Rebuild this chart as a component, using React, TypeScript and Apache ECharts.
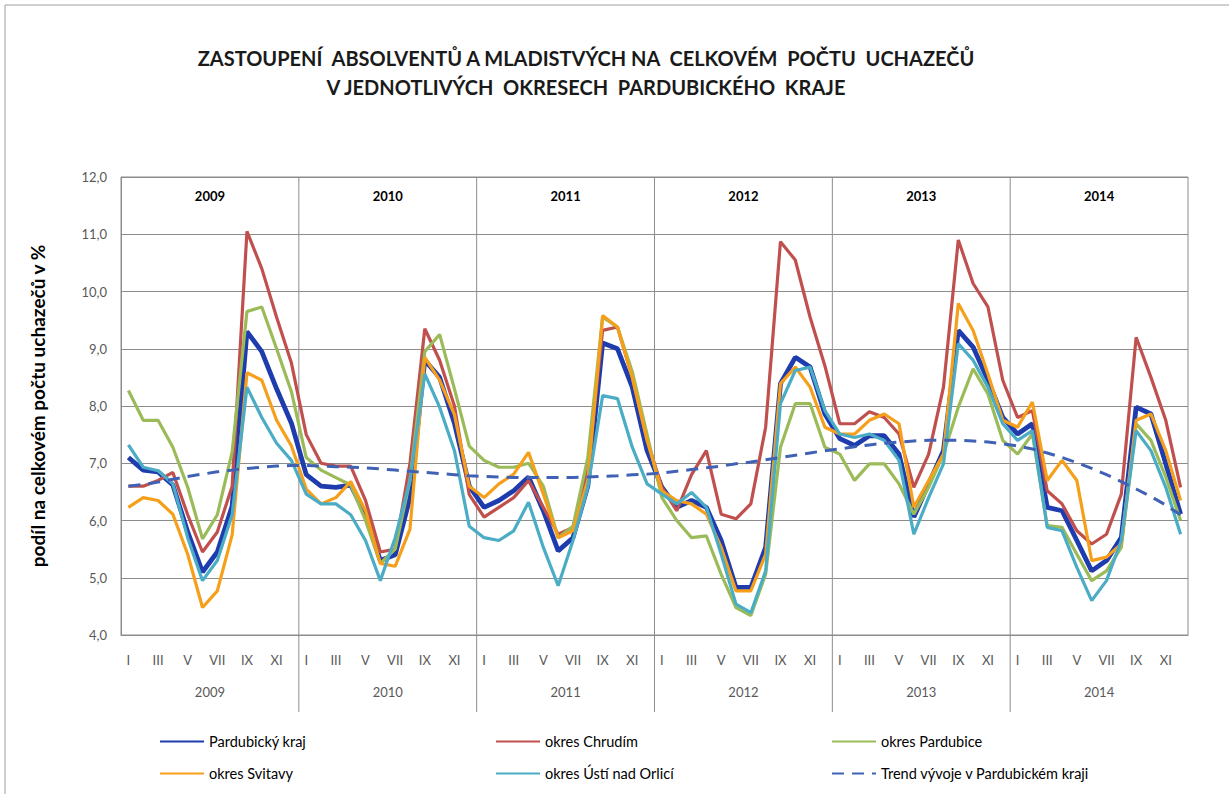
import React, { useEffect, useRef } from 'react';
import * as echarts from 'echarts';

const years = ['2009', '2010', '2011', '2012', '2013', '2014'];
const months = ['I', 'II', 'III', 'IV', 'V', 'VI', 'VII', 'VIII', 'IX', 'X', 'XI', 'XII'];
const categories = years.flatMap((y) => months.map((m) => `${y}|${m}`));
const yearBoundaries = [12, 24, 36, 48, 60];

const pardubickyKraj = [
  7.10, 6.88, 6.85, 6.62, 5.80, 5.10, 5.45, 6.25, 9.30, 8.95, 8.30, 7.70,
  6.80, 6.60, 6.58, 6.62, 6.10, 5.30, 5.40, 6.40, 8.80, 8.50, 7.70, 6.60,
  6.23, 6.35, 6.52, 6.76, 6.17, 5.47, 5.70, 6.60, 9.10, 9.00, 8.33, 7.22,
  6.58, 6.23, 6.35, 6.23, 5.65, 4.83, 4.83, 5.53, 8.39, 8.85, 8.68, 7.86,
  7.43, 7.31, 7.48, 7.48, 7.16, 6.06, 6.64, 7.22, 9.32, 9.03, 8.45, 7.80,
  7.51, 7.69, 6.23, 6.17, 5.65, 5.12, 5.30, 5.70, 7.98, 7.86, 6.99, 6.11,
];
const chrudim = [
  6.60, 6.60, 6.70, 6.84, 6.10, 5.45, 5.80, 6.60, 11.05, 10.40, 9.55, 8.75,
  7.50, 7.00, 6.95, 6.95, 6.35, 5.45, 5.50, 7.00, 9.35, 8.80, 8.00, 6.45,
  6.06, 6.23, 6.40, 6.70, 6.23, 5.76, 5.88, 6.90, 9.32, 9.38, 8.50, 7.40,
  6.58, 6.17, 6.80, 7.22, 6.11, 6.03, 6.29, 7.63, 10.87, 10.55, 9.55, 8.70,
  7.69, 7.69, 7.90, 7.80, 7.51, 6.58, 7.16, 8.33, 10.90, 10.14, 9.73, 8.45,
  7.80, 7.92, 6.52, 6.29, 5.82, 5.59, 5.76, 6.46, 9.20, 8.50, 7.75, 6.58,
];
const pardubice = [
  8.27, 7.75, 7.75, 7.28, 6.58, 5.68, 6.10, 7.20, 9.65, 9.73, 9.00, 8.25,
  7.10, 6.88, 6.75, 6.62, 6.00, 5.25, 5.50, 6.70, 8.95, 9.25, 8.30, 7.30,
  7.05, 6.93, 6.93, 7.00, 6.60, 5.70, 5.90, 7.10, 9.55, 9.38, 8.60, 7.50,
  6.40, 6.00, 5.70, 5.73, 5.06, 4.48, 4.34, 5.06, 7.28, 8.04, 8.04, 7.28,
  7.16, 6.70, 6.99, 6.99, 6.64, 6.11, 6.58, 7.16, 7.98, 8.65, 8.21, 7.40,
  7.16, 7.51, 5.91, 5.88, 5.41, 4.95, 5.12, 5.53, 7.69, 7.40, 6.76, 6.00,
];
const svitavy = [
  6.23, 6.40, 6.35, 6.11, 5.41, 4.48, 4.77, 5.75, 8.58, 8.45, 7.75, 7.30,
  6.55, 6.29, 6.40, 6.68, 6.17, 5.25, 5.20, 5.85, 8.85, 8.45, 7.85, 6.60,
  6.40, 6.64, 6.81, 7.19, 6.46, 5.70, 5.82, 6.70, 9.58, 9.38, 8.50, 7.40,
  6.52, 6.35, 6.29, 6.11, 5.53, 4.77, 4.77, 5.41, 8.39, 8.68, 8.33, 7.63,
  7.51, 7.51, 7.75, 7.86, 7.69, 6.23, 6.70, 7.16, 9.79, 9.32, 8.56, 7.75,
  7.63, 8.07, 6.70, 7.05, 6.70, 5.30, 5.36, 5.59, 7.75, 7.86, 7.22, 6.35,
];
const ustiNadOrlici = [
  7.32, 6.93, 6.87, 6.64, 5.70, 4.95, 5.30, 6.10, 8.33, 7.80, 7.35, 7.05,
  6.46, 6.29, 6.29, 6.10, 5.65, 4.95, 5.70, 6.70, 8.56, 7.98, 7.22, 5.90,
  5.70, 5.65, 5.82, 6.32, 5.53, 4.86, 5.65, 6.58, 8.18, 8.13, 7.28, 6.64,
  6.46, 6.29, 6.49, 6.23, 5.41, 4.54, 4.39, 5.12, 8.04, 8.62, 8.68, 7.92,
  7.51, 7.45, 7.51, 7.40, 7.05, 5.76, 6.40, 6.99, 9.09, 8.80, 8.33, 7.69,
  7.40, 7.57, 5.88, 5.82, 5.18, 4.60, 4.95, 5.65, 7.57, 7.22, 6.58, 5.76,
];
const trend = [
  6.60, 6.63, 6.67, 6.72, 6.77, 6.81, 6.85, 6.88, 6.91, 6.93, 6.95, 6.96,
  6.96, 6.95, 6.94, 6.93, 6.92, 6.90, 6.88, 6.86, 6.84, 6.82, 6.80, 6.78,
  6.77, 6.76, 6.75, 6.75, 6.75, 6.75, 6.75, 6.76, 6.77, 6.78, 6.80, 6.81,
  6.83, 6.86, 6.89, 6.92, 6.95, 6.99, 7.02, 7.06, 7.10, 7.14, 7.18, 7.22,
  7.25, 7.29, 7.32, 7.35, 7.37, 7.39, 7.40, 7.40, 7.40, 7.39, 7.37, 7.34,
  7.30, 7.25, 7.18, 7.10, 7.01, 6.91, 6.80, 6.68, 6.55, 6.42, 6.27, 6.10,
];

const FONT = 'Lato, "Open Sans", sans-serif';
const GRID = '#8c8c8c';

export default function App() {
  const ref = useRef<HTMLDivElement>(null);
  useEffect(() => {
    if (!ref.current) return;
    const chart = echarts.init(ref.current, undefined, { renderer: 'svg' });
    const lineSeries = (name: string, data: number[], color: string, width: number, dashed = false) => ({
      name,
      type: 'line',
      data,
      xAxisIndex: 0,
      yAxisIndex: 0,
      symbol: 'none',
      showSymbol: false,
      smooth: false,
      color,
      lineStyle: { color, width, type: dashed ? [12, 8] : 'solid' },
      z: 3,
    });
    const legendCommon = {
      orient: 'vertical',
      top: 729,
      itemWidth: 44,
      itemHeight: 14,
      itemGap: 17,
      itemStyle: { opacity: 0 },
      textStyle: { fontFamily: FONT, fontSize: 14.5, color: '#000' },
    };
    chart.setOption({
      animation: false,
      backgroundColor: '#fff',
      textStyle: { fontFamily: FONT },
      title: {
        text: 'ZASTOUPENÍ  ABSOLVENTŮ A MLADISTVÝCH NA  CELKOVÉM  POČTU  UCHAZEČŮ\nV JEDNOTLIVÝCH  OKRESECH  PARDUBICKÉHO  KRAJE',
        left: 581,
        top: 38,
        textAlign: 'center',
        textStyle: { fontFamily: FONT, fontSize: 20, fontWeight: 'bold', color: '#1a1a1a', lineHeight: 29 },
      },
      graphic: [
        { type: 'rect', shape: { x: 5, y: 5, width: 1240, height: 820 }, style: { fill: 'none', stroke: '#a0a0a0', lineWidth: 1 }, silent: true },
      ],
      legend: [
        { ...legendCommon, left: 154, data: ['Pardubický kraj', 'okres Svitavy'] },
        { ...legendCommon, left: 490, data: ['okres Chrudím', 'okres Ústí nad Orlicí'] },
        { ...legendCommon, left: 826, data: ['okres Pardubice', 'Trend vývoje v Pardubickém kraji'] },
      ],
      grid: { left: 121, right: 41, top: 177, bottom: 159, show: true, borderColor: GRID, borderWidth: 1, backgroundColor: 'transparent' },
      xAxis: [
        {
          type: 'category',
          data: categories,
          position: 'bottom',
          boundaryGap: true,
          axisLine: { show: true, lineStyle: { color: GRID } },
          axisTick: { show: false },
          splitLine: { show: false },
          axisLabel: {
            interval: 1,
            margin: 18,
            color: '#595959',
            fontSize: 13,
            fontFamily: FONT,
            formatter: (v: string) => v.split('|')[1],
          },
        },
        {
          type: 'category',
          data: years,
          position: 'bottom',
          boundaryGap: true,
          axisLine: { show: false },
          axisTick: { show: false },
          splitLine: { show: false },
          axisLabel: { margin: 50, color: '#595959', fontSize: 13, fontFamily: FONT },
        },
        {
          type: 'category',
          data: years,
          position: 'top',
          boundaryGap: true,
          axisLine: { show: false },
          axisTick: { show: false },
          splitLine: { show: false },
          axisLabel: { inside: true, margin: 12, color: '#000', fontSize: 13, fontWeight: 'bold', fontFamily: FONT },
        },
        { type: 'value', min: 0, max: 72, show: false, position: 'bottom' },
      ],
      yAxis: {
        type: 'value',
        min: 4,
        max: 12,
        interval: 1,
        name: 'podíl na celkovém počtu uchazečů v %',
        nameLocation: 'middle',
        nameGap: 74,
        nameTextStyle: { fontFamily: FONT, fontSize: 19, fontWeight: 'bold', color: '#000' },
        axisLine: { show: true, lineStyle: { color: GRID } },
        axisTick: { show: false },
        splitLine: { show: true, lineStyle: { color: GRID, width: 1 } },
        axisLabel: {
          margin: 14,
          color: '#595959',
          fontSize: 13,
          fontFamily: FONT,
          formatter: (v: number) => v.toFixed(1).replace('.', ','),
        },
      },
      series: [
        {
          type: 'custom',
          name: 'separators',
          xAxisIndex: 3,
          yAxisIndex: 0,
          data: yearBoundaries.map((b) => [b]),
          encode: { x: 0 },
          silent: true,
          z: 1,
          renderItem: (params: any, api: any) => {
            const top = api.coord([api.value(0), 12]);
            const bottom = api.coord([api.value(0), 4]);
            return {
              type: 'line',
              shape: { x1: top[0], y1: top[1], x2: top[0], y2: bottom[1] + 77 },
              style: { stroke: GRID, lineWidth: 1 },
            };
          },
        },
        lineSeries('Pardubický kraj', pardubickyKraj, '#1f3cae', 4.8),
        lineSeries('okres Chrudím', chrudim, '#c0504d', 3.2),
        lineSeries('okres Pardubice', pardubice, '#9bbb59', 3.2),
        lineSeries('okres Svitavy', svitavy, '#f59f1a', 3.2),
        lineSeries('okres Ústí nad Orlicí', ustiNadOrlici, '#4bacc6', 3.2),
        lineSeries('Trend vývoje v Pardubickém kraji', trend, '#4062b4', 3, true),
      ],
    });
    return () => chart.dispose();
  }, []);
  return <div ref={ref} style={{ position: 'fixed', left: 0, top: 0, width: 1229, height: 794 }} />;
}
